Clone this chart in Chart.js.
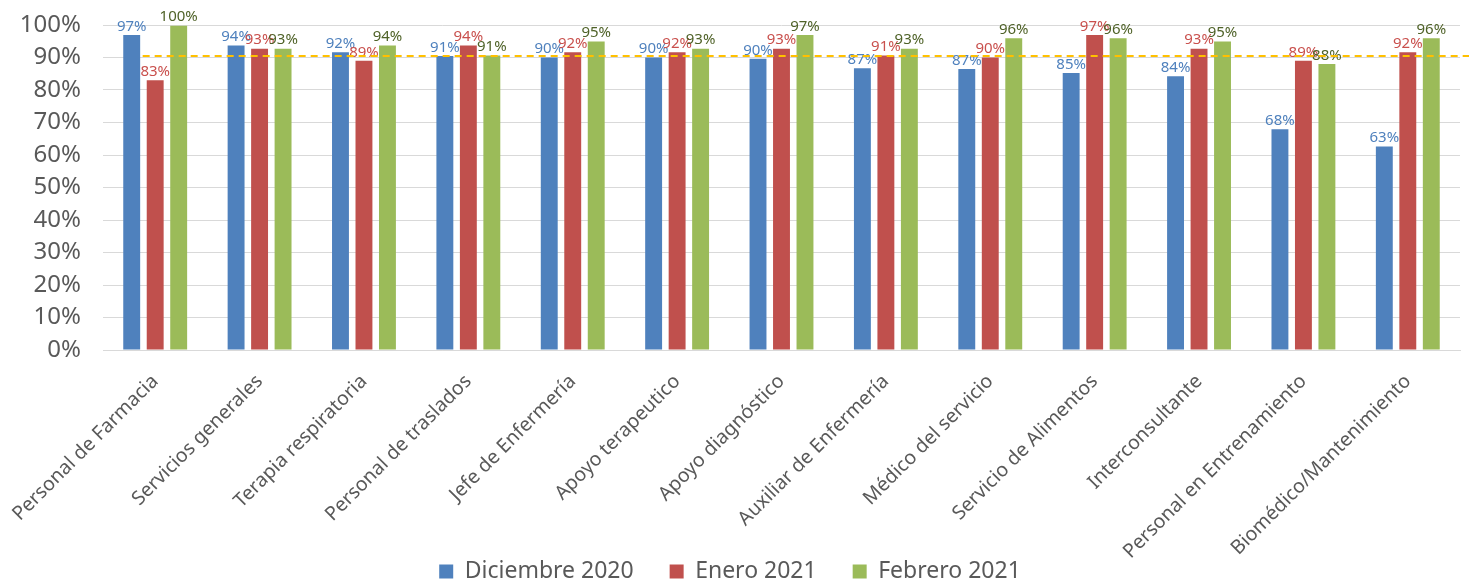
<!DOCTYPE html>
<html lang="es">
<head>
<meta charset="utf-8">
<script src="https://cdn.jsdelivr.net/npm/chart.js@4.4.1/dist/chart.umd.min.js"></script>
<style>
  html, body { margin: 0; padding: 0; background: #fff; }
  #wrap { width: 1469px; height: 584px; }
</style>
</head>
<body>
<div id="wrap"><canvas id="chart"></canvas></div>
<script>
  // categories
  var categorias = ['Personal de Farmacia', 'Servicios generales', 'Terapia respiratoria',
    'Personal de traslados', 'Jefe de Enfermería', 'Apoyo terapeutico', 'Apoyo diagnóstico',
    'Auxiliar de Enfermería', 'Médico del servicio', 'Servicio de Alimentos',
    'Interconsultante', 'Personal en Entrenamiento', 'Biomédico/Mantenimiento'];

  // series values (%)
  var diciembre2020 = [96.9, 93.7, 91.6, 90.5, 90.0, 90.0, 89.6, 86.7, 86.5, 85.2, 84.2, 67.9, 62.6];
  var enero2021     = [83.0, 92.7, 89.0, 93.7, 91.6, 91.6, 92.7, 90.6, 90.0, 96.9, 92.7, 89.0, 91.6];
  var febrero2021   = [99.8, 92.7, 93.7, 90.6, 94.9, 92.7, 96.9, 92.7, 95.9, 95.9, 94.9, 88.0, 95.9];

  // reference line
  var meta = 90.5;

  // y tick labels
  var yTicks = [0, 10, 20, 30, 40, 50, 60, 70, 80, 90, 100];

  var FONT = '"Noto Sans", "DejaVu Sans", sans-serif';
  var labelColors = ['#4f81bd', '#c9504d', '#4f6228'];

  var labelsPlugin = {
    id: 'barLabels',
    afterDatasetsDraw: function (chart) {
      var ctx = chart.ctx;
      ctx.save();
      ctx.font = '15px ' + FONT;
      ctx.textAlign = 'center';
      ctx.textBaseline = 'bottom';
      chart.data.datasets.forEach(function (ds, i) {
        var m = chart.getDatasetMeta(i);
        m.data.forEach(function (bar, j) {
          ctx.fillStyle = labelColors[i];
          ctx.fillText(Math.round(ds.data[j]) + '%', bar.x, bar.y - 1);
        });
      });
      ctx.restore();
    }
  };

  var metaLinePlugin = {
    id: 'metaLine',
    afterDatasetsDraw: function (chart) {
      var ctx = chart.ctx;
      var y = chart.scales.y.getPixelForValue(meta);
      var x = chart.scales.x;
      var step = (x.right - x.left) / categorias.length;
      var x0 = x.getPixelForValue(0) - step * 0.12;
      ctx.save();
      ctx.strokeStyle = '#ffc000';
      ctx.lineWidth = 2;
      ctx.setLineDash([7, 5]);
      ctx.beginPath();
      ctx.moveTo(x0, y);
      ctx.lineTo(chart.width, y);
      ctx.stroke();
      ctx.restore();
    }
  };

  // long rotated labels run past the axis box, like in the original
  var noClipPlugin = {
    id: 'noClip',
    beforeDraw: function (chart) {
      chart.scales.x._computeLabelArea = function () { return undefined; };
    }
  };

  var chart = new Chart(document.getElementById('chart').getContext('2d'), {
    type: 'bar',
    data: {
      labels: categorias,
      datasets: [
        { label: 'Diciembre 2020', backgroundColor: '#4f81bd', data: diciembre2020 },
        { label: 'Enero 2021', backgroundColor: '#c0504d', data: enero2021 },
        { label: 'Febrero 2021', backgroundColor: '#9bbb59', data: febrero2021 }
      ]
    },
    options: {
      responsive: true,
      maintainAspectRatio: false,
      animation: false,
      datasets: { bar: { categoryPercentage: 0.675, barPercentage: 0.72 } },
      layout: { padding: { top: 25, right: 9, left: 0, bottom: -9 } },
      plugins: {
        tooltip: { enabled: false },
        legend: {
          position: 'bottom',
          labels: {
            font: { family: FONT, size: 23 },
            color: '#595959',
            boxWidth: 14,
            boxHeight: 14,
            padding: 36
          }
        }
      },
      scales: {
        x: {
          afterFit: function (s) { s.height = 174; },
          grid: { display: false },
          border: { color: '#d9d9d9' },
          ticks: {
            font: { family: FONT, size: 19.5 },
            color: '#595959',
            minRotation: 45,
            maxRotation: 45,
            padding: 12,
            autoSkip: false
          }
        },
        y: {
          min: 0,
          max: 100,
          afterFit: function (s) { s.width = 103; },
          afterBuildTicks: function (s) {
            s.ticks = yTicks.map(function (v) { return { value: v }; });
          },
          grid: { color: '#d9d9d9', drawTicks: true, tickLength: 14, tickColor: 'rgba(0,0,0,0)' },
          border: { display: false },
          ticks: {
            font: { family: FONT, size: 24 },
            color: '#595959',
            padding: 8,
            autoSkip: false,
            callback: function (v) { return v + '%'; }
          }
        }
      }
    },
    plugins: [labelsPlugin, metaLinePlugin, noClipPlugin]
  });
</script>
</body>
</html>
